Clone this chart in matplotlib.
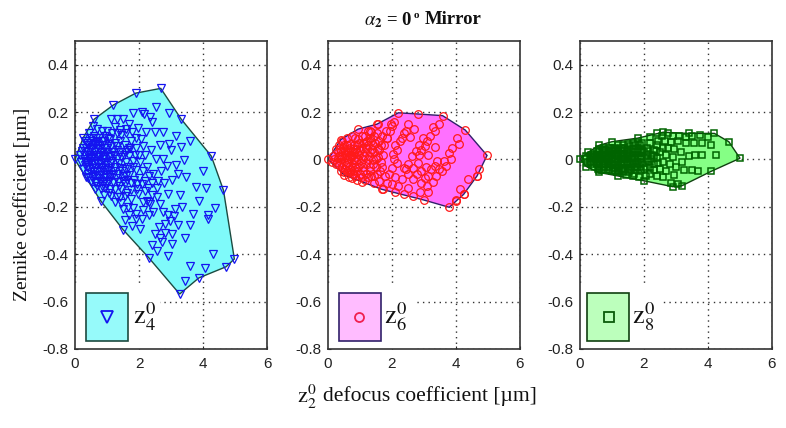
import numpy as np
import matplotlib
matplotlib.use('Agg')
import matplotlib.pyplot as plt
from matplotlib.patches import Polygon, Rectangle

plt.rcParams['font.family'] = ['Liberation Sans', 'DejaVu Sans']
plt.rcParams['mathtext.fontset'] = 'stix'

# hull outlines
z4_hull = [(0,0),(0.25,0.09),(0.6,0.17),(1.2,0.23),(1.9,0.28),(2.68,0.30),(3.32,0.17),(4.26,0.014),(4.64,-0.13),
           (4.98,-0.42),(4.72,-0.453),(3.87,-0.50),(3.27,-0.568),(2.3,-0.414),(1.5,-0.296),(0.8,-0.174),(0.34,-0.076)]
z6_hull = [(0,0),(0.4,0.084),(0.94,0.128),(1.53,0.149),(2.2,0.197),(2.8,0.192),(3.58,0.185),(4.29,0.124),(4.97,0.017),
           (4.66,-0.069),(4.24,-0.147),(4.0,-0.176),(3.79,-0.202),(2.99,-0.171),(1.68,-0.126),(1.06,-0.094),(0.51,-0.066)]
z8_hull = [(0,0.003),(0.25,0.03),(0.6,0.06),(1.0,0.075),(1.8,0.09),(2.6,0.115),(3.4,0.11),(4.2,0.11),(4.65,0.075),(5.0,0.005),
           (4.1,-0.05),(3.2,-0.11),(2.9,-0.115),(2.0,-0.09),(1.2,-0.07),(0.6,-0.055),(0.2,-0.03)]

# points
z4_points = z4_hull + [
    (1.8,0.197),(2.08,0.2),(2.15,0.19),(2.52,0.22),(2.94,0.197),(1.13,0.17),(1.32,0.17),(1.5,0.17),(2.34,0.178),(2.42,0.158),
    (1.69,0.15),(1.97,0.133),(2.23,0.114),(2.51,0.117),(2.76,0.118),(3.59,0.08),(3.16,0.10),(2.93,0.067),(2.67,0.06),(3.32,0.053),
    (3.01,0.04),(2.13,0.055),(2.39,0.04),(1.86,0.02),(2.2,0.02),(2.54,0),(2.75,0),(3.4,-0.003),(3.17,-0.024),(2.86,-0.028),
    (4.0,-0.05),(2.7,-0.05),(2.44,-0.062),(3.22,-0.06),(3.46,-0.076),(3.02,-0.086),(3.79,-0.117),(4.08,-0.12),(2.9,-0.146),(3.28,-0.148),
    (3.89,-0.174),(4.39,-0.205),(1.97,-0.146),(2.2,-0.132),(2.26,-0.174),(2.13,-0.178),(1.13,-0.155),(1.32,-0.157),(1.66,-0.2),(1.82,-0.205),
    (1.92,-0.23),(2.13,-0.215),(2.44,-0.222),(2.75,-0.222),(3.14,-0.208),(3.35,-0.2),(3.69,-0.23),(4.15,-0.236),(1.56,-0.254),(1.79,-0.282),
    (2.03,-0.292),(2.62,-0.285),(2.8,-0.274),(2.96,-0.26),(3.22,-0.278),(3.6,-0.278),(4.17,-0.25),(2.51,-0.315),(2.65,-0.333),(2.82,-0.312),
    (3.04,-0.315),(3.44,-0.333),(2.72,-0.35),(3.03,-0.357),(2.4,-0.362),(2.55,-0.386),(2.9,-0.407),(4.31,-0.4),(3.6,-0.451),(4.06,-0.46),
    (3.44,-0.514),(2.3,-0.18),(2.35,-0.19),(1.5,-0.21),(1.7,-0.235),(1.9,-0.25),(2.1,-0.25),(2.3,-0.235),(2.9,-0.235),(3.1,-0.24),
    # middle band
    (1.25,0.135),(1.42,0.125),(1.58,0.13),(1.78,0.115),(1.92,0.09),(2.05,0.085),(1.7,0.05),(1.92,0.05),(1.55,0.03),(1.8,-0.005),
    (2.02,-0.01),(2.25,-0.03),(1.92,-0.045),(2.12,-0.05),(2.32,-0.07),(1.62,-0.085),(1.85,-0.085),(2.1,-0.105),(2.28,-0.12),(1.75,-0.13),
    (1.95,-0.125),(1.55,-0.155),(1.75,-0.165),(1.25,-0.18),(1.45,-0.185),(2.6,-0.09),(2.78,-0.1),(2.55,-0.16),(2.4,-0.15),(2.65,-0.19),
    # dense part
    (0.3,0.08),(0.45,0.11),(0.55,0.14),(0.7,0.13),(0.85,0.12),(1.0,0.12),(1.15,0.11),(1.3,0.11),(1.45,0.105),(1.6,0.11),
    (0.25,0.05),(0.4,0.06),(0.55,0.08),(0.7,0.075),(0.9,0.08),(1.1,0.085),(1.25,0.07),(1.4,0.08),(1.55,0.06),(1.75,0.08),
    (0.15,0.02),(0.3,0.02),(0.4,0.03),(0.5,0.045),(0.62,0.03),(0.75,0.045),(0.88,0.03),(1.0,0.05),(1.15,0.03),(1.3,0.04),(1.7,0.015),(2.0,0.02),
    (0.2,-0.01),(0.32,-0.005),(0.44,0.005),(0.55,0.01),(0.66,-0.005),(0.78,0.01),(0.9,0),(1.02,0.01),(1.15,-0.005),(1.3,0),(1.45,0.01),(1.6,-0.01),
    (0.25,-0.04),(0.38,-0.03),(0.5,-0.02),(0.62,-0.035),(0.73,-0.02),(0.85,-0.035),(0.97,-0.025),(1.1,-0.035),(1.25,-0.03),(1.4,-0.035),(1.55,-0.04),(1.8,-0.03),
    (0.42,-0.06),(0.55,-0.055),(0.68,-0.065),(0.8,-0.055),(0.93,-0.065),(1.05,-0.06),(1.2,-0.065),(1.35,-0.06),(1.5,-0.07),(1.7,-0.065),(2.0,-0.08),(2.2,-0.09),
    (0.5,-0.09),(0.65,-0.095),(0.78,-0.09),(0.92,-0.095),(1.05,-0.09),(1.2,-0.095),(1.35,-0.095),(1.55,-0.105),(1.75,-0.1),(1.95,-0.105),(2.4,-0.1),(2.55,-0.12),
    (0.62,-0.125),(0.8,-0.125),(0.95,-0.12),(1.1,-0.125),(1.25,-0.125),(1.45,-0.125),(1.62,-0.14),(0.9,-0.15),(1.05,-0.14),(1.4,-0.16),
    (0.5,0.0),(0.6,-0.015),(0.7,0.02),(0.8,-0.015),(0.35,0.035),(0.45,-0.04),(0.55,0.06),(0.65,0.05),(0.85,0.06),(0.95,-0.045),
    # solid core
    (0.22,0.035),(0.28,0.0),(0.34,0.05),(0.38,-0.015),(0.46,0.02),(0.48,0.07),(0.52,-0.035),(0.58,0.03),(0.6,-0.07),(0.64,0.065),
    (0.68,0.01),(0.7,-0.05),(0.72,0.055),(0.76,-0.08),(0.8,0.03),(0.82,-0.03),(0.84,0.08),(0.88,-0.08),(0.9,0.015),(0.92,0.05),
    (0.95,-0.01),(0.98,-0.075),(1.0,0.03),(1.03,-0.045),(1.06,0.065),(1.08,-0.015),(1.1,-0.075),(1.12,0.015),(0.3,-0.025),(0.36,0.07),
    (0.42,-0.08),(0.46,-0.005),(0.5,0.09),(0.54,-0.075),(0.58,0.1),(0.62,-0.1),(0.66,0.09),(0.7,-0.11),(0.74,0.02),(0.76,0.09),
    (0.84,-0.11),(0.86,0.0),(0.94,0.1),(0.98,-0.105),(1.02,0.09),(1.14,0.055),(1.18,-0.05),(1.22,0.02),(1.28,-0.08),(1.32,0.055),
    (1.36,-0.015),(1.38,-0.11),(1.42,0.03),(1.48,-0.05),(1.5,-0.09),(1.52,0.02),(1.6,-0.07),(1.62,0.04),(1.66,-0.03),(1.72,0.05),
]
z6_points = z6_hull + [
    # right group
    (4.03,0.09),(4.08,0.066),(3.87,0.05),(3.79,0.028),(3.85,0.003),(3.61,-0.007),(3.69,-0.028),(3.4,-0.007),(3.33,-0.028),(3.46,-0.042),
    (3.23,-0.042),(3.37,-0.07),(3.14,-0.07),(3.27,-0.094),(2.91,-0.1),(3.12,-0.136),(2.88,-0.136),(2.67,-0.154),(4.38,-0.084),(4.66,-0.07),
    (4.71,-0.042),(4.14,-0.126),(4.24,-0.145),(4.0,-0.171),(3.33,0.053),(3.14,0.02),(3.55,-0.05),(3.05,-0.03),(3.02,-0.08),(3.1,-0.11),
    # streak 2
    (3.46,0.15),(3.33,0.122),(3.19,0.098),(2.98,0.09),(3.04,0.056),(2.83,0.063),(2.74,0.035),(2.62,0.014),(2.51,-0.021),(2.36,-0.035),
    (2.67,-0.035),(2.51,-0.063),(2.3,-0.084),(2.67,-0.084),(2.51,-0.119),(2.2,-0.112),(2.09,-0.136),(2.39,-0.145),(2.85,0.02),(2.8,-0.015),
    (2.9,-0.05),(2.78,-0.06),(3.27,0.135),(3.1,0.08),(2.92,0.04),(2.45,-0.04),
    # streak 3
    (2.51,0.15),(2.7,0.13),(2.57,0.094),(2.36,0.112),(2.25,0.077),(2.15,0.042),(2.04,0.021),(1.97,0.15),(1.94,0.122),(1.83,0.091),
    (2.15,-0.014),(1.99,-0.035),(1.78,-0.07),(1.99,-0.105),(1.73,-0.126),(1.44,-0.098),(1.55,0.15),(1.31,0.12),(2.45,0.12),(2.3,0.09),
    (2.1,0.06),(2.05,0.0),(1.9,-0.06),(2.1,-0.075),(1.85,-0.1),
    # dense part
    (2.05,0.16),(2.0,0.14),(1.8,0.12),(1.7,0.1),(1.85,0.09),(1.6,0.08),(1.75,0.06),(1.6,0.04),(1.72,0.02),(1.55,0.01),(1.65,-0.01),(1.5,-0.03),(1.62,-0.05),(1.45,-0.07),(1.6,-0.09),
    (1.25,0.12),(1.35,0.115),(1.15,0.1),(1.3,0.09),(1.45,0.1),(1.1,0.07),(1.25,0.06),(1.4,0.06),(1.0,0.04),(1.15,0.03),(1.3,0.03),(1.45,0.03),(0.95,0.0),(1.1,0.0),(1.25,0.0),(1.4,0.0),(0.95,-0.03),(1.1,-0.03),(1.3,-0.03),(1.0,-0.06),(1.2,-0.06),(1.35,-0.07),(1.15,-0.085),(0.85,-0.07),
    (0.6,0.09),(0.75,0.1),(0.85,0.09),(0.95,0.085),(0.5,0.06),(0.6,0.06),(0.7,0.065),(0.8,0.06),(0.9,0.06),(0.3,0.03),(0.42,0.035),(0.52,0.035),(0.62,0.03),(0.72,0.035),(0.82,0.03),(0.9,0.03),
    (0.2,0.0),(0.3,0.005),(0.4,0.0),(0.5,0.005),(0.6,0.0),(0.7,0.005),(0.8,0.0),(0.88,-0.005),(0.25,-0.02),(0.35,-0.025),(0.45,-0.03),(0.55,-0.025),(0.65,-0.03),(0.75,-0.03),(0.85,-0.03),
    (0.4,-0.05),(0.5,-0.055),(0.6,-0.05),(0.7,-0.055),(0.78,-0.06),(0.65,-0.075),(0.75,-0.08),(0.9,-0.085),
    (0.35,0.06),(0.45,0.08),(0.25,0.045),(0.15,0.015),(0.12,-0.01),(0.55,0.02),(0.65,0.015),(0.75,0.015),(0.45,0.015),(0.35,0.015),
    # solid core
    (0.28,-0.01),(0.38,0.045),(0.42,-0.012),(0.48,0.05),(0.52,-0.04),(0.58,0.045),(0.6,-0.015),(0.68,0.05),(0.7,-0.04),(0.72,0.02),
    (0.78,0.045),(0.8,-0.045),(0.85,0.01),(0.88,0.045),(0.92,-0.05),(0.98,0.02),(1.02,-0.015),(1.05,0.05),(1.08,-0.05),(1.12,0.015),
    (1.18,0.05),(1.2,-0.015),(1.22,0.08),(1.28,0.015),(1.32,-0.05),(1.38,0.045),(1.42,-0.02),(1.48,0.07),(1.5,0.0),(1.55,0.05),
    (1.05,0.1),(0.98,0.07),(1.18,0.075),(1.35,0.08),(1.52,0.11),(1.65,0.06),(1.05,-0.075),(1.25,-0.075),(1.52,-0.06),(1.68,-0.03),
]
z8_points = z8_hull + [
    (4.0,0.095),(3.75,0.105),(3.5,0.1),(3.3,0.095),(3.1,0.1),(2.9,0.1),(2.75,0.11),(2.55,0.1),(2.4,0.11),(2.2,0.095),(4.1,0.06),(3.8,0.07),(3.55,0.07),(3.3,0.07),(3.05,0.08),(2.85,0.075),(2.65,0.08),(2.45,0.08),
    (4.25,0.02),(3.8,0.02),(3.6,0.02),(3.4,0.015),(3.15,0.03),(2.95,0.045),(2.75,0.05),(2.6,0.05),(2.4,0.06),(3.2,-0.01),(2.9,0.01),(2.7,0.02),(2.5,0.03),(2.3,0.04),
    (3.5,-0.045),(3.7,-0.05),(3.25,-0.045),(3.0,-0.03),(2.8,-0.02),(2.6,-0.01),(2.4,0.005),(2.95,-0.065),(2.7,-0.05),(2.5,-0.04),(2.3,-0.02),(3.05,-0.105),(2.85,-0.1),(2.6,-0.075),(2.4,-0.07),(2.2,-0.06),
    (2.2,0.07),(2.1,0.05),(2.25,0.02),(2.1,0.02),(2.15,-0.01),(2.05,-0.03),(2.05,-0.07),(1.95,0.07),(1.8,0.075),(1.65,0.07),(1.95,0.04),(1.8,0.045),(1.65,0.045),(1.95,0.015),(1.8,0.015),(1.65,0.015),
    (1.95,-0.015),(1.8,-0.015),(1.65,-0.015),(1.9,-0.045),(1.75,-0.045),(1.6,-0.045),(1.85,-0.075),(1.65,-0.07),(1.45,-0.065),(1.5,0.065),(1.35,0.06),(1.2,0.06),(1.5,0.04),(1.35,0.04),(1.2,0.04),(1.05,0.05),
    (1.5,0.015),(1.35,0.015),(1.2,0.015),(1.05,0.02),(1.5,-0.01),(1.35,-0.01),(1.2,-0.01),(1.05,-0.01),(1.5,-0.035),(1.35,-0.035),(1.2,-0.035),(1.05,-0.035),(1.3,-0.055),(1.15,-0.055),(1.0,-0.05),
    (0.9,0.05),(0.75,0.05),(0.6,0.045),(0.9,0.03),(0.75,0.03),(0.6,0.03),(0.45,0.025),(0.9,0.01),(0.75,0.01),(0.6,0.01),(0.45,0.01),(0.3,0.01),(0.9,-0.01),(0.75,-0.01),(0.6,-0.01),(0.45,-0.01),(0.3,-0.01),
    (0.9,-0.03),(0.75,-0.03),(0.6,-0.03),(0.45,-0.03),(0.85,-0.045),(0.7,-0.045),(0.55,-0.04),(0.15,0.0),(0.2,0.015),(0.22,-0.015),
    (0.8,0.0),(0.65,0.0),(0.5,0.0),(0.38,0.0),(1.0,0.0),(1.12,0.0),(1.28,0.0),(1.42,0.0),(1.58,0.0),(1.72,0.0),(1.88,0.0),
    # solid core
    (0.35,0.02),(0.35,-0.02),(0.52,0.02),(0.52,-0.02),(0.68,0.02),(0.68,-0.02),(0.82,0.02),(0.82,-0.02),(0.97,0.02),(0.97,-0.02),
    (1.12,0.025),(1.12,-0.02),(1.27,0.025),(1.27,-0.02),(1.42,0.025),(1.42,-0.02),(1.57,0.025),(1.57,-0.02),(1.72,0.03),(1.72,-0.03),
    (1.88,0.03),(1.88,-0.03),(0.52,0.035),(0.68,0.04),(0.82,0.04),(0.97,0.04),(1.12,0.045),(1.27,0.05),(1.42,0.05),(1.57,0.055),
    (1.72,0.06),(1.88,0.06),(0.6,-0.045),(0.75,-0.045),(0.92,-0.045),(1.08,-0.05),(1.22,-0.05),(1.38,-0.05),(1.52,-0.055),(1.68,-0.06),
    (0.42,0.015),(0.58,0.0),(0.72,-0.02),(0.87,0.0),(1.03,0.035),(1.18,-0.03),(1.33,0.005),(1.48,0.03),(1.62,-0.03),(1.78,0.03),
    (0.58,0.02),(0.72,0.04),(0.87,-0.02),(1.03,-0.025),(1.18,0.03),(1.33,-0.04),(1.48,-0.02),(1.62,0.005),(1.78,-0.03),(1.92,0.0),
    (2.0,0.03),(2.0,-0.04),(2.08,0.0),(2.12,0.035),(2.18,-0.03),(2.22,0.0),(2.3,0.015),(2.32,-0.045),(2.38,0.035),(2.45,-0.015),
]

panel_names = ['4', '6', '8']
hulls = [z4_hull, z6_hull, z8_hull]
points = [z4_points, z6_points, z8_points]
fills = ['#7ffafa', '#ff70ff', '#85ff85']
legend_fills = ['#96fafa', '#ffbcff', '#bcffbc']
edges = ['#1c4a40', '#30206a', '#104010']
marker_colors = ['#1414f0', '#ff1a1a', '#006400']
markers = ['v', 'o', 's']
marker_sizes = [5.8, 5.5, 4.8]
marker_widths = [0.9, 0.9, 1.1]
legend_marker_colors = ['#1414f0', '#f02050', '#0a5a0a']
legend_marker_sizes = [8, 6.5, 7]
legend_box_left = [0.35, 0.33, 0.22]
legend_marker_x = [1.0, 0.97, 0.9]
legend_text_x = [1.82, 1.76, 1.64]
blank_width = [2.65, 2.75, 2.5]

x_ticks = [0, 2, 4, 6]
y_ticks = [-0.8, -0.6, -0.4, -0.2, 0, 0.2, 0.4]
y_tick_labels = ['-0.8', '-0.6', '-0.4', '-0.2', '0', '0.2', '0.4']

W, H = 786, 428
lefts = [75, 328, 580]
fig = plt.figure(figsize=(W / 100, H / 100), dpi=100)

for i in range(3):
    ax = fig.add_axes([lefts[i] / W, 1 - 349 / H, 192 / W, 308 / H])
    ax.set_xlim(0, 6)
    ax.set_ylim(-0.8, 0.5)
    ax.set_xticks(x_ticks)
    ax.set_yticks(y_ticks)
    ax.set_yticklabels(y_tick_labels)
    ax.tick_params(direction='in', length=2.5, width=0.8, labelsize=11, colors='#222222')
    ax.tick_params(axis='x', pad=6)
    ax.tick_params(axis='y', pad=5)
    ax.grid(True, linestyle=(0, (1, 3)), color='#333333', linewidth=1)
    ax.set_axisbelow(True)
    for s in ax.spines.values():
        s.set_linewidth(1.2)
        s.set_color('#333333')

    # white label area hides the grid
    ax.add_patch(Rectangle((0, -0.8), blank_width[i], 0.27, fc='white', ec='none', zorder=1.5))
    ax.add_patch(Polygon(hulls[i], closed=True, fc=fills[i], ec=edges[i], lw=1.0, zorder=2))
    pts = np.array(points[i])
    ax.plot(pts[:, 0], pts[:, 1], ls='none', marker=markers[i], mfc='none', mec=marker_colors[i],
            ms=marker_sizes[i], mew=marker_widths[i], zorder=3, clip_on=False)

    # legend box
    ax.add_patch(Rectangle((legend_box_left[i], -0.765), 1.32, 0.2, fc=legend_fills[i], ec=edges[i], lw=1.2, zorder=3))
    ax.plot([legend_marker_x[i]], [-0.665], ls='none', marker=markers[i], mfc='none', mec=legend_marker_colors[i],
            ms=legend_marker_sizes[i], mew=1.3, zorder=4)
    ax.text(legend_text_x[i], -0.665, r'$\mathrm{z}_{%s}^{0}$' % panel_names[i], fontsize=19, va='center', ha='left', zorder=4, color='#111111')

fig.text(22 / W, 1 - 204 / H, 'Zernike coefficient [µm]', rotation=90, family='Liberation Serif',
         fontsize=14, ha='center', va='center', color='#111111')
fig.text(297 / W, 1 - 397 / H, r'$\mathrm{z}_{2}^{0}$', fontsize=16, ha='left', va='center', color='#111111')
fig.text(323 / W, 1 - 396 / H, 'defocus coefficient [µm]', family='Liberation Serif',
         fontsize=15.6, ha='left', va='center', color='#111111')
fig.text(413 / W, 1 - 20 / H, r'$\alpha_{\mathbf{2}}$' + ' = 0', family='Liberation Serif', fontweight='bold',
         fontsize=13.5, ha='right', va='center', color='#111111')
fig.text(414 / W, 1 - 16 / H, 'o', family='Liberation Serif', fontweight='bold', fontsize=8,
         ha='left', va='center', color='#111111')
fig.text(425 / W, 1 - 20 / H, 'Mirror', family='Liberation Serif', fontweight='bold',
         fontsize=13.5, ha='left', va='center', color='#111111')

fig.savefig('out.png', dpi=100)
